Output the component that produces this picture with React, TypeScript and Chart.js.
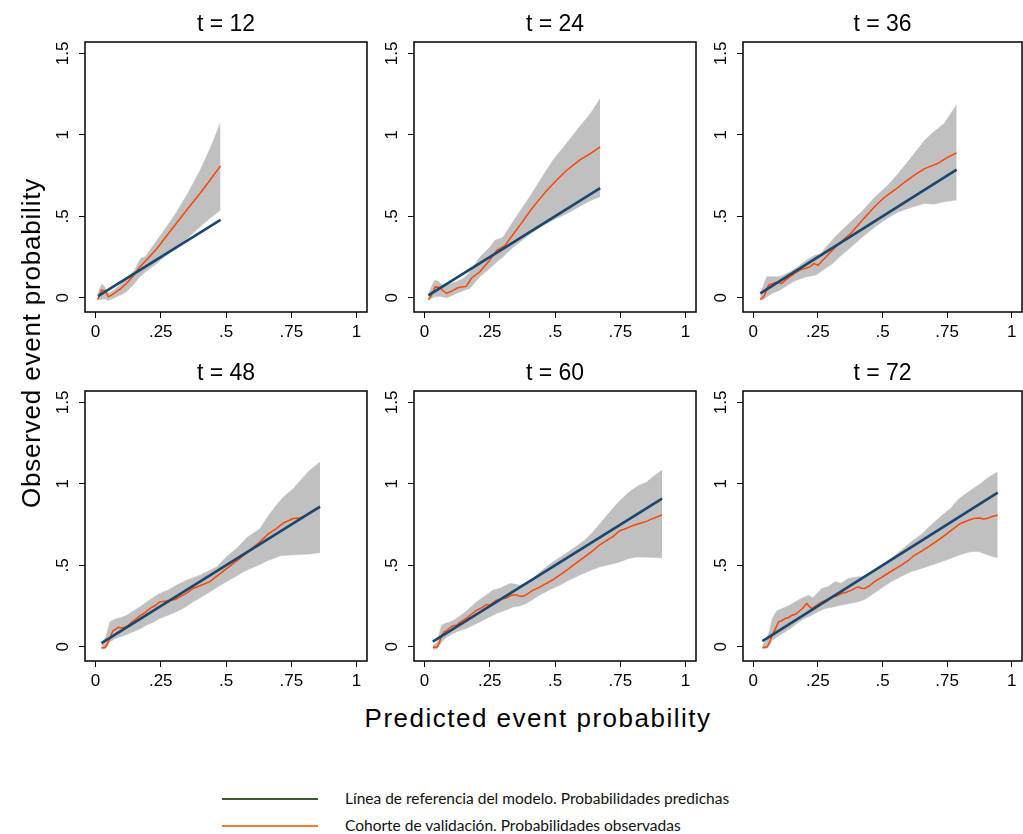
import React, { useEffect, useRef } from "react";
import { Chart, registerables } from "chart.js";

Chart.register(...registerables);

// ---------------- data ----------------
const panelTitles = ["t = 12", "t = 24", "t = 36", "t = 48", "t = 60", "t = 72"];
const xTickValues = [0, 0.25, 0.5, 0.75, 1];
const xTickLabels = ["0", ".25", ".5", ".75", "1"];
const yTickValues = [0, 0.5, 1, 1.5];
const yTickLabels = ["0", ".5", "1", "1.5"];
const xAxisTitle = "Predicted event probability";
const yAxisTitle = "Observed event probability";
const legendLabels = [
  "Línea de referencia del modelo. Probabilidades predichas",
  "Cohorte de validación. Probabilidades observadas",
];

// reference line y = x : [start, end] of predicted probabilities
const ref12 = [0.01, 0.479];
const ref24 = [0.015, 0.673];
const ref36 = [0.027, 0.787];
const ref48 = [0.023, 0.86];
const ref60 = [0.032, 0.91];
const ref72 = [0.035, 0.946];

// observed curve [x, y]
const obs12: number[][] = [[0.008,-0.01],[0.015,0.01],[0.023,0.047],[0.036,0.043],[0.042,0.03],[0.049,0.006],[0.06,0.015],[0.074,0.03],[0.095,0.055],[0.119,0.088],[0.145,0.135],[0.17,0.19],[0.2,0.24],[0.234,0.3],[0.27,0.375],[0.31,0.458],[0.355,0.55],[0.4,0.64],[0.44,0.725],[0.479,0.81]];
const obs24: number[][] = [[0.015,-0.01],[0.025,0.01],[0.035,0.045],[0.041,0.067],[0.06,0.063],[0.07,0.045],[0.085,0.027],[0.104,0.041],[0.13,0.063],[0.16,0.07],[0.18,0.12],[0.212,0.16],[0.25,0.23],[0.276,0.29],[0.308,0.32],[0.34,0.39],[0.37,0.455],[0.403,0.53],[0.435,0.595],[0.467,0.655],[0.505,0.72],[0.543,0.78],[0.594,0.845],[0.635,0.885],[0.673,0.926]];
const obs36: number[][] = [[0.027,-0.01],[0.04,0.006],[0.05,0.04],[0.059,0.078],[0.07,0.085],[0.078,0.09],[0.09,0.095],[0.11,0.088],[0.125,0.11],[0.141,0.129],[0.16,0.15],[0.18,0.17],[0.2,0.18],[0.218,0.19],[0.235,0.21],[0.25,0.2],[0.265,0.225],[0.281,0.25],[0.305,0.29],[0.332,0.333],[0.355,0.365],[0.377,0.395],[0.405,0.445],[0.434,0.497],[0.47,0.56],[0.51,0.62],[0.55,0.665],[0.586,0.71],[0.625,0.755],[0.663,0.793],[0.69,0.81],[0.713,0.824],[0.75,0.86],[0.787,0.89]];
const obs48: number[][] = [[0.023,-0.006],[0.035,-0.005],[0.042,0.006],[0.05,0.035],[0.055,0.05],[0.062,0.08],[0.068,0.1],[0.08,0.11],[0.087,0.12],[0.1,0.115],[0.112,0.12],[0.125,0.13],[0.138,0.15],[0.155,0.17],[0.17,0.19],[0.19,0.21],[0.208,0.235],[0.23,0.255],[0.246,0.276],[0.265,0.28],[0.285,0.286],[0.305,0.29],[0.323,0.307],[0.35,0.33],[0.374,0.358],[0.4,0.375],[0.438,0.4],[0.47,0.44],[0.502,0.48],[0.535,0.52],[0.566,0.56],[0.6,0.605],[0.63,0.644],[0.66,0.69],[0.693,0.726],[0.72,0.76],[0.757,0.787],[0.783,0.79],[0.82,0.82],[0.86,0.855]];
const obs60: number[][] = [[0.032,-0.004],[0.05,0],[0.058,0.03],[0.066,0.07],[0.075,0.09],[0.085,0.1],[0.1,0.12],[0.11,0.13],[0.123,0.133],[0.14,0.155],[0.16,0.174],[0.18,0.2],[0.2,0.225],[0.22,0.24],[0.238,0.26],[0.25,0.255],[0.276,0.286],[0.295,0.295],[0.314,0.3],[0.33,0.315],[0.352,0.32],[0.365,0.31],[0.378,0.31],[0.395,0.325],[0.416,0.348],[0.44,0.365],[0.467,0.389],[0.49,0.41],[0.518,0.44],[0.545,0.47],[0.569,0.5],[0.595,0.53],[0.62,0.56],[0.645,0.59],[0.67,0.624],[0.695,0.65],[0.721,0.675],[0.745,0.71],[0.772,0.726],[0.8,0.745],[0.823,0.757],[0.85,0.77],[0.874,0.787],[0.91,0.81]];
const obs72: number[][] = [[0.035,-0.004],[0.054,0],[0.063,0.03],[0.073,0.07],[0.085,0.11],[0.098,0.153],[0.11,0.16],[0.124,0.174],[0.137,0.18],[0.15,0.194],[0.163,0.2],[0.175,0.215],[0.19,0.235],[0.207,0.266],[0.218,0.245],[0.226,0.235],[0.245,0.255],[0.265,0.276],[0.285,0.29],[0.303,0.307],[0.32,0.31],[0.341,0.327],[0.36,0.335],[0.38,0.348],[0.395,0.36],[0.405,0.368],[0.418,0.36],[0.431,0.358],[0.45,0.375],[0.469,0.4],[0.495,0.425],[0.52,0.45],[0.545,0.475],[0.572,0.5],[0.6,0.53],[0.623,0.562],[0.655,0.59],[0.687,0.624],[0.72,0.66],[0.75,0.695],[0.775,0.725],[0.802,0.757],[0.83,0.775],[0.853,0.787],[0.875,0.79],[0.89,0.785],[0.904,0.787],[0.925,0.8],[0.946,0.808]];

// confidence band, lower and upper limits [x, y]
const lo12: number[][] = [[0.008,-0.015],[0.02,-0.01],[0.035,-0.005],[0.049,-0.015],[0.06,-0.01],[0.08,0.006],[0.1,0.02],[0.119,0.037],[0.145,0.08],[0.17,0.13],[0.2,0.17],[0.234,0.21],[0.27,0.26],[0.31,0.31],[0.355,0.37],[0.4,0.435],[0.44,0.49],[0.479,0.54]];
const hi12: number[][] = [[0.008,0.02],[0.02,0.07],[0.025,0.085],[0.035,0.07],[0.045,0.03],[0.06,0.035],[0.08,0.06],[0.1,0.09],[0.119,0.12],[0.15,0.17],[0.165,0.22],[0.175,0.245],[0.19,0.25],[0.234,0.35],[0.27,0.43],[0.31,0.525],[0.355,0.645],[0.4,0.78],[0.44,0.92],[0.479,1.075]];
const lo24: number[][] = [[0.015,-0.015],[0.03,0],[0.04,0.006],[0.06,0.01],[0.085,0],[0.1,0.01],[0.123,0.027],[0.15,0.045],[0.174,0.057],[0.212,0.13],[0.25,0.18],[0.27,0.21],[0.3,0.25],[0.34,0.31],[0.403,0.39],[0.45,0.44],[0.492,0.476],[0.55,0.52],[0.594,0.56],[0.635,0.595],[0.673,0.62]];
const hi24: number[][] = [[0.015,0.02],[0.03,0.08],[0.04,0.11],[0.055,0.1],[0.066,0.08],[0.09,0.08],[0.123,0.1],[0.15,0.12],[0.174,0.16],[0.212,0.25],[0.25,0.31],[0.27,0.354],[0.3,0.37],[0.34,0.47],[0.403,0.62],[0.45,0.74],[0.492,0.845],[0.55,0.96],[0.594,1.05],[0.635,1.13],[0.673,1.223]];
const lo36: number[][] = [[0.027,-0.015],[0.04,-0.01],[0.052,0.006],[0.075,0.03],[0.103,0.047],[0.13,0.075],[0.154,0.098],[0.18,0.115],[0.205,0.129],[0.243,0.14],[0.27,0.17],[0.307,0.21],[0.34,0.26],[0.37,0.3],[0.42,0.37],[0.472,0.436],[0.52,0.49],[0.561,0.527],[0.61,0.555],[0.663,0.579],[0.7,0.575],[0.739,0.59],[0.787,0.6]];
const hi36: number[][] = [[0.027,0.02],[0.04,0.08],[0.052,0.13],[0.075,0.13],[0.103,0.13],[0.13,0.15],[0.154,0.17],[0.18,0.2],[0.205,0.23],[0.237,0.26],[0.26,0.27],[0.281,0.31],[0.32,0.38],[0.37,0.456],[0.42,0.53],[0.472,0.62],[0.52,0.69],[0.561,0.763],[0.61,0.86],[0.663,0.967],[0.7,1.02],[0.739,1.07],[0.787,1.186]];
const lo48: number[][] = [[0.023,-0.015],[0.04,-0.01],[0.055,0.03],[0.075,0.05],[0.093,0.061],[0.12,0.075],[0.144,0.092],[0.17,0.11],[0.195,0.133],[0.22,0.15],[0.246,0.174],[0.28,0.195],[0.31,0.215],[0.34,0.24],[0.374,0.276],[0.41,0.31],[0.438,0.337],[0.47,0.37],[0.502,0.4],[0.535,0.43],[0.566,0.46],[0.6,0.485],[0.63,0.505],[0.66,0.53],[0.68,0.54],[0.71,0.56],[0.732,0.562],[0.783,0.566],[0.82,0.57],[0.86,0.578]];
const hi48: number[][] = [[0.023,0.01],[0.04,0.06],[0.055,0.153],[0.08,0.174],[0.1,0.18],[0.119,0.194],[0.145,0.22],[0.17,0.245],[0.2,0.28],[0.246,0.327],[0.28,0.35],[0.31,0.378],[0.35,0.41],[0.4,0.44],[0.438,0.47],[0.464,0.49],[0.5,0.55],[0.54,0.603],[0.58,0.67],[0.63,0.726],[0.66,0.8],[0.693,0.87],[0.72,0.92],[0.757,0.97],[0.79,1.03],[0.821,1.084],[0.86,1.135]];
const lo60: number[][] = [[0.032,-0.015],[0.05,-0.01],[0.058,0.01],[0.066,0.03],[0.085,0.06],[0.11,0.082],[0.135,0.1],[0.16,0.112],[0.19,0.135],[0.212,0.153],[0.245,0.18],[0.276,0.204],[0.31,0.225],[0.34,0.245],[0.365,0.25],[0.39,0.266],[0.415,0.29],[0.44,0.317],[0.48,0.35],[0.518,0.378],[0.555,0.41],[0.594,0.44],[0.63,0.465],[0.67,0.49],[0.71,0.505],[0.747,0.52],[0.78,0.54],[0.81,0.552],[0.86,0.55],[0.91,0.546]];
const hi60: number[][] = [[0.032,0.01],[0.05,0.03],[0.058,0.09],[0.066,0.133],[0.08,0.145],[0.098,0.153],[0.12,0.17],[0.149,0.204],[0.175,0.24],[0.2,0.276],[0.23,0.31],[0.263,0.348],[0.29,0.36],[0.327,0.389],[0.345,0.385],[0.365,0.378],[0.39,0.39],[0.416,0.42],[0.45,0.47],[0.492,0.52],[0.53,0.56],[0.569,0.603],[0.61,0.65],[0.645,0.705],[0.68,0.77],[0.721,0.849],[0.75,0.9],[0.785,0.951],[0.82,0.99],[0.85,1.01],[0.88,1.05],[0.91,1.084]];
const lo72: number[][] = [[0.035,-0.015],[0.05,-0.01],[0.063,0.01],[0.073,0.04],[0.1,0.07],[0.124,0.092],[0.15,0.12],[0.175,0.153],[0.2,0.175],[0.226,0.194],[0.25,0.215],[0.278,0.235],[0.31,0.245],[0.341,0.256],[0.37,0.265],[0.405,0.276],[0.43,0.29],[0.456,0.317],[0.495,0.36],[0.533,0.4],[0.57,0.43],[0.61,0.46],[0.65,0.48],[0.687,0.5],[0.725,0.52],[0.763,0.542],[0.8,0.565],[0.84,0.583],[0.87,0.585],[0.904,0.566],[0.925,0.555],[0.946,0.546]];
const hi72: number[][] = [[0.035,0.01],[0.05,0.04],[0.063,0.1],[0.073,0.174],[0.09,0.22],[0.111,0.235],[0.135,0.25],[0.162,0.276],[0.19,0.3],[0.214,0.317],[0.23,0.3],[0.265,0.358],[0.29,0.37],[0.316,0.4],[0.34,0.39],[0.367,0.42],[0.405,0.43],[0.43,0.43],[0.456,0.46],[0.495,0.5],[0.533,0.542],[0.57,0.59],[0.61,0.644],[0.65,0.69],[0.687,0.746],[0.725,0.8],[0.763,0.849],[0.79,0.9],[0.814,0.93],[0.85,0.97],[0.878,1.0],[0.91,1.04],[0.946,1.074]];

// ---------------- style ----------------
const NAVY = "#1a476f";
const ORANGE = "#ff4500";
const BAND = "#c0c0c0";
const LEGEND_GREEN = "#3a5a2a";
const LEGEND_ORANGE = "#ef7d32";
const FONT = "'Liberation Sans', Arial, Helvetica, sans-serif";

const panels = [
  { title: panelTitles[0], ref: ref12, obs: obs12, lo: lo12, hi: hi12 },
  { title: panelTitles[1], ref: ref24, obs: obs24, lo: lo24, hi: hi24 },
  { title: panelTitles[2], ref: ref36, obs: obs36, lo: lo36, hi: hi36 },
  { title: panelTitles[3], ref: ref48, obs: obs48, lo: lo48, hi: hi48 },
  { title: panelTitles[4], ref: ref60, obs: obs60, lo: lo60, hi: hi60 },
  { title: panelTitles[5], ref: ref72, obs: obs72, lo: lo72, hi: hi72 },
];

const COL_LEFT = [39, 368, 697];
const COL_WIDTH = [329, 329, 326];
const ROW_TOP = [0, 349];
const CANVAS_H = 349;

const boxPlugin = {
  id: "plotBox",
  afterDraw(chart: any) {
    const { ctx, chartArea: a } = chart;
    ctx.save();
    ctx.strokeStyle = "#000";
    ctx.lineWidth = 1.5;
    ctx.strokeRect(a.left, a.top, a.right - a.left, a.bottom - a.top);
    ctx.restore();
  },
};

const toXY = (arr: number[][]) => arr.map(([x, y]) => ({ x, y }));

function Panel({ idx }: { idx: number }) {
  const canvasRef = useRef<HTMLCanvasElement>(null);
  const col = idx % 3;
  const row = Math.floor(idx / 3);
  const w = COL_WIDTH[col];

  useEffect(() => {
    const p = panels[idx];
    const chart = new Chart(canvasRef.current as HTMLCanvasElement, {
      type: "line",
      data: {
        datasets: [
          {
            data: [{ x: p.ref[0], y: p.ref[0] }, { x: p.ref[1], y: p.ref[1] }],
            borderColor: NAVY,
            borderWidth: 2.6,
            pointRadius: 0,
            fill: false,
            order: 0,
          },
          {
            data: toXY(p.obs),
            borderColor: ORANGE,
            borderWidth: 1.5,
            pointRadius: 0,
            fill: false,
            order: 1,
          },
          {
            data: toXY(p.lo),
            borderColor: BAND,
            borderWidth: 0.5,
            pointRadius: 0,
            fill: false,
            order: 3,
          },
          {
            data: toXY(p.hi),
            borderColor: BAND,
            borderWidth: 0.5,
            pointRadius: 0,
            fill: "-1",
            backgroundColor: BAND,
            order: 2,
          },
        ],
      } as any,
      options: {
        animation: false,
        responsive: false,
        events: [],
        layout: { padding: { left: 0, right: 1, top: 0, bottom: 0 } },
        elements: { line: { tension: 0 } },
        plugins: {
          legend: { display: false },
          tooltip: { enabled: false },
          title: {
            display: true,
            text: p.title,
            fullSize: false,
            color: "#000",
            font: { family: FONT, size: 23, weight: "normal" },
            padding: { top: 10.5, bottom: 3.9 },
          },
        },
        scales: {
          x: {
            type: "linear",
            min: -0.04,
            max: 1.04,
            afterBuildTicks: (s: any) => {
              s.ticks = xTickValues.map((v) => ({ value: v }));
            },
            afterFit: (s: any) => {
              s.height = 37;
            },
            grid: {
              display: true,
              drawOnChartArea: false,
              drawTicks: true,
              tickLength: 6,
              color: "#000",
              lineWidth: 1,
            },
            border: { display: false },
            ticks: {
              autoSkip: false,
              maxRotation: 0,
              padding: 4,
              color: "#000",
              font: { family: FONT, size: 17 },
              callback: (v: any) => {
                const i = xTickValues.indexOf(Number(v));
                return i >= 0 ? xTickLabels[i] : "";
              },
            },
          },
          y: {
            type: "linear",
            min: -0.087,
            max: 1.57,
            afterBuildTicks: (s: any) => {
              s.ticks = yTickValues.map((v) => ({ value: v }));
            },
            afterFit: (s: any) => {
              s.width = 46;
            },
            grid: {
              display: true,
              drawOnChartArea: false,
              drawTicks: true,
              tickLength: 6,
              color: "#000",
              lineWidth: 1,
            },
            border: { display: false },
            ticks: {
              autoSkip: false,
              minRotation: 90,
              maxRotation: 90,
              crossAlign: "center",
              padding: 4,
              color: "#000",
              font: { family: FONT, size: 17 },
              callback: (v: any) => {
                const i = yTickValues.indexOf(Number(v));
                return i >= 0 ? yTickLabels[i] : "";
              },
            },
          },
        },
      } as any,
      plugins: [boxPlugin],
    });
    return () => chart.destroy();
  }, [idx]);

  return (
    <canvas
      ref={canvasRef}
      width={w}
      height={CANVAS_H}
      style={{
        position: "absolute",
        left: COL_LEFT[col],
        top: ROW_TOP[row],
        width: w,
        height: CANVAS_H,
      }}
    />
  );
}

export default function App() {
  return (
    <div
      style={{
        position: "fixed",
        left: 0,
        top: 0,
        width: 1023,
        height: 834,
        background: "#fff",
        overflow: "hidden",
      }}
    >
      {panels.map((_, i) => (
        <Panel key={i} idx={i} />
      ))}
      <div
        style={{
          position: "absolute",
          left: 31,
          top: 343,
          transform: "translate(-50%, -50%) rotate(-90deg)",
          fontFamily: FONT,
          fontSize: 26,
          lineHeight: 1,
          letterSpacing: 0.8,
          whiteSpace: "nowrap",
          color: "#000",
          zIndex: 2,
        }}
      >
        {yAxisTitle}
      </div>
      <div
        style={{
          position: "absolute",
          left: 538,
          top: 717.5,
          transform: "translate(-50%, -50%)",
          fontFamily: FONT,
          fontSize: 26,
          lineHeight: 1,
          letterSpacing: 1.5,
          whiteSpace: "nowrap",
          color: "#000",
          zIndex: 2,
        }}
      >
        {xAxisTitle}
      </div>
      {[LEGEND_GREEN, LEGEND_ORANGE].map((c, i) => (
        <React.Fragment key={i}>
          <div
            style={{
              position: "absolute",
              left: 222,
              top: 798 + i * 27,
              width: 96,
              height: 2,
              background: c,
            }}
          />
          <div
            style={{
              position: "absolute",
              left: 345,
              top: 799 + i * 27,
              transform: "translateY(-50%)",
              fontFamily: "Lato, 'Open Sans', sans-serif",
              fontSize: 15.5,
              lineHeight: 1,
              whiteSpace: "nowrap",
              color: "#111",
            }}
          >
            {legendLabels[i]}
          </div>
        </React.Fragment>
      ))}
    </div>
  );
}
